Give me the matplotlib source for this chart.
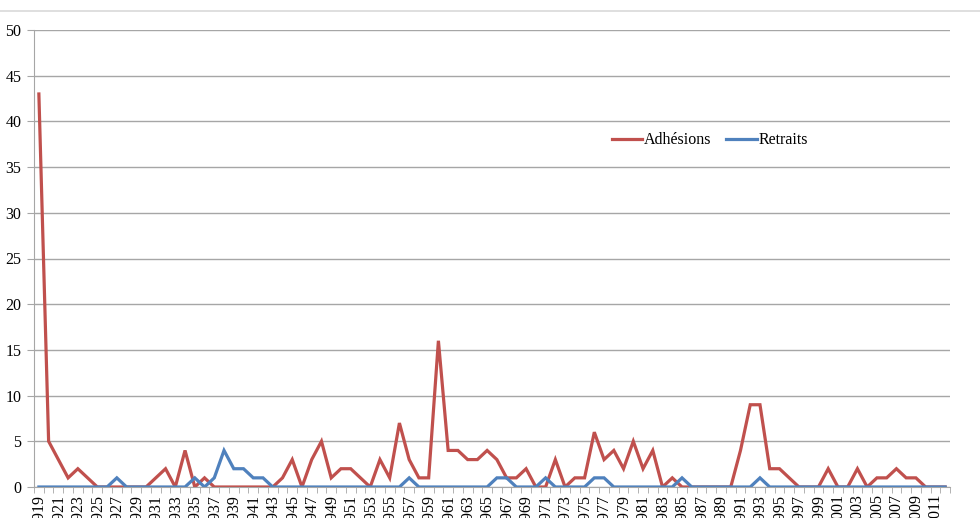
import matplotlib
matplotlib.use("Agg")
import matplotlib.pyplot as plt
import numpy as np

years = list(range(1919, 2013))
adhesions = [43, 5, 3, 1, 2, 1, 0, 0, 0, 0, 0, 0, 1, 2, 0, 4, 0, 1, 0, 0,
             0, 0, 0, 0, 0, 1, 3, 0, 3, 5, 1, 2, 2, 1, 0, 3, 1, 7, 3, 1,
             1, 16, 4, 4, 3, 3, 4, 3, 1, 1, 2, 0, 0, 3, 0, 1, 1, 6, 3, 4,
             2, 5, 2, 4, 0, 1, 0, 0, 0, 0, 0, 0, 4, 9, 9, 2, 2, 1, 0, 0,
             0, 2, 0, 0, 2, 0, 1, 1, 2, 1, 1, 0, 0, 0]
retraits = [0, 0, 0, 0, 0, 0, 0, 0, 1, 0, 0, 0, 0, 0, 0, 0, 1, 0, 1, 4,
            2, 2, 1, 1, 0, 0, 0, 0, 0, 0, 0, 0, 0, 0, 0, 0, 0, 0, 1, 0,
            0, 0, 0, 0, 0, 0, 0, 1, 1, 0, 0, 0, 1, 0, 0, 0, 0, 1, 1, 0,
            0, 0, 0, 0, 0, 0, 1, 0, 0, 0, 0, 0, 0, 0, 1, 0, 0, 0, 0, 0,
            0, 0, 0, 0, 0, 0, 0, 0, 0, 0, 0, 0, 0, 0]
series_names = ["Adhésions", "Retraits"]
y_ticks = list(range(0, 51, 5))

W, H = 980, 518
fig = plt.figure(figsize=(W / 100, H / 100), dpi=100)
plt.rcParams['font.family'] = ['Liberation Serif', 'DejaVu Serif']
FS = 11.5

left, right, top, bottom = 34, 950, 30, 487
ax = fig.add_axes([left / W, 1 - bottom / H, (right - left) / W, (bottom - top) / H])

x = np.arange(len(years))
ax.plot(x, adhesions, color="#C0504D", lw=2.3, label=series_names[0], solid_joinstyle="miter")
ax.plot(x, retraits, color="#4F81BD", lw=2.3, label=series_names[1], solid_joinstyle="miter")

ax.set_xlim(-0.5, len(years) - 0.5)
ax.set_ylim(0, 50)
ax.set_yticks(y_ticks)
ax.set_yticklabels([str(v) for v in y_ticks], fontsize=FS)
ax.yaxis.grid(True, color="#A6A6A6", lw=1)
ax.set_axisbelow(True)

ax.set_xticks(x[::2])
ax.set_xticklabels([str(y) for y in years[::2]], rotation=90, fontsize=FS)
ax.set_xticks(np.arange(-0.5, len(years) + 0.5, 1), minor=True)
ax.tick_params(axis='x', which='major', length=0, pad=5)
ax.tick_params(axis='x', which='minor', length=4, color="#A6A6A6", direction='out')
ax.tick_params(axis='y', length=5, color="#A6A6A6", pad=4)

for s in ['top', 'right']:
    ax.spines[s].set_visible(False)
ax.spines['left'].set_color("#A6A6A6")
ax.spines['bottom'].set_color("#A6A6A6")

leg = ax.legend(loc='center', bbox_to_anchor=(0.738, 0.759), ncol=2, frameon=False,
                fontsize=FS, handlelength=1.9, handletextpad=0.15, columnspacing=0.9)

fig.add_artist(plt.Line2D([0, 1], [1 - 11 / H, 1 - 11 / H], color="#D9D9D9", lw=1.2,
                          transform=fig.transFigure))

fig.savefig("out.png", dpi=100)
